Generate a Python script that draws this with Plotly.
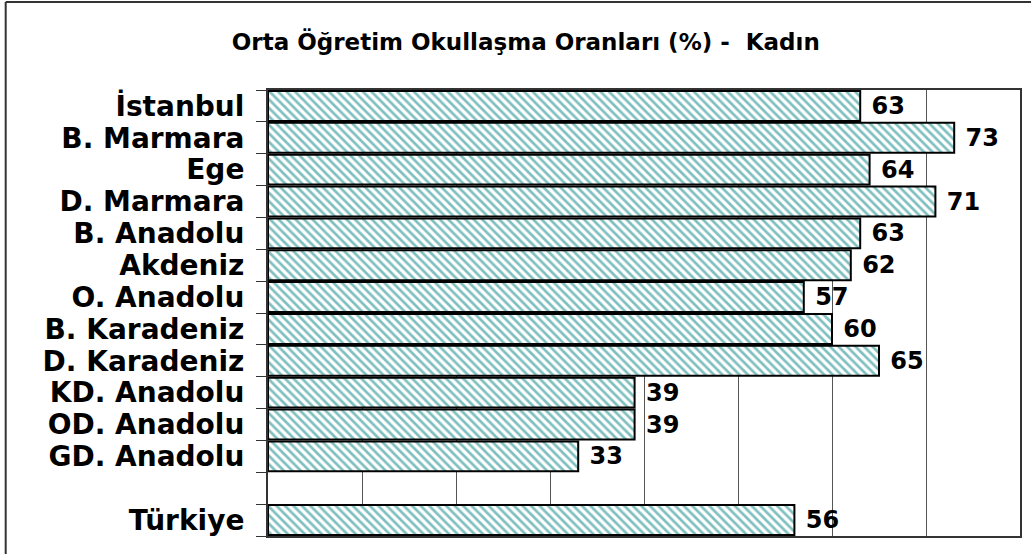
import plotly.graph_objects as go

categories = ["İstanbul", "B. Marmara", "Ege", "D. Marmara", "B. Anadolu", "Akdeniz",
              "O. Anadolu", "B. Karadeniz", "D. Karadeniz", "KD. Anadolu", "OD. Anadolu",
              "GD. Anadolu", " ", "Türkiye"]
values = [63, 73, 64, 71, 63, 62, 57, 60, 65, 39, 39, 33, None, 56]
labels = ["" if v is None else " " + str(v) for v in values]

W, H = 1031, 554
L, R, T, B = 268, 9, 90, 18

fig = go.Figure(go.Bar(
    y=categories, x=values, orientation="h",
    text=labels, textposition="outside", cliponaxis=False,
    textfont=dict(family="DejaVu Sans", size=24, color="black", weight="bold"),
    marker=dict(color="white",
                line=dict(color="black", width=2),
                pattern=dict(shape="\\", fgcolor="#008080", bgcolor="white",
                             size=6, solidity=0.45)),
))

fig.update_layout(
    width=W, height=H,
    margin=dict(l=L, r=R, t=T, b=B),
    paper_bgcolor="white", plot_bgcolor="white",
    bargap=0.06,
    showlegend=False,
    title=dict(text="Orta Öğretim Okullaşma Oranları (%) -  Kadın",
               x=0.51, xanchor="center", y=1 - 42 / H, yanchor="middle",
               font=dict(family="DejaVu Sans", size=23, color="black", weight="bold")),
    xaxis=dict(range=[0, 80], dtick=10, showticklabels=False, ticks="",
               showgrid=True, gridcolor="#555555", gridwidth=1, zeroline=False,
               showline=True, linecolor="#333333", linewidth=2, mirror=True),
    yaxis=dict(autorange="reversed", type="category",
               tickmode="array", tickvals=categories, ticktext=categories,
               tickson="boundaries", ticks="outside", ticklen=10, tickcolor="#333333",
               ticklabelstandoff=16,
               tickfont=dict(family="DejaVu Sans", size=28, color="black", weight="bold"),
               showline=True, linecolor="#333333", linewidth=2, mirror=True,
               showgrid=False),
)

# Outer frame (left and top edges visible in the window)
pw = W - L - R
ph = H - T - B
fx0 = (5 - L) / pw
fx1 = (W + 5 - L) / pw
fy_top = (H - 2 - B) / ph
fy_bot = (-10 - B) / ph
fig.add_shape(type="line", xref="paper", yref="paper", x0=fx0, x1=fx0, y0=fy_bot, y1=fy_top,
              line=dict(color="#333333", width=2))
fig.add_shape(type="line", xref="paper", yref="paper", x0=fx0, x1=fx1, y0=fy_top, y1=fy_top,
              line=dict(color="#333333", width=2))

fig.write_html("out.html", config={"displayModeBar": False},
               post_script="document.body.style.margin='0px';document.body.style.overflow='hidden';")
